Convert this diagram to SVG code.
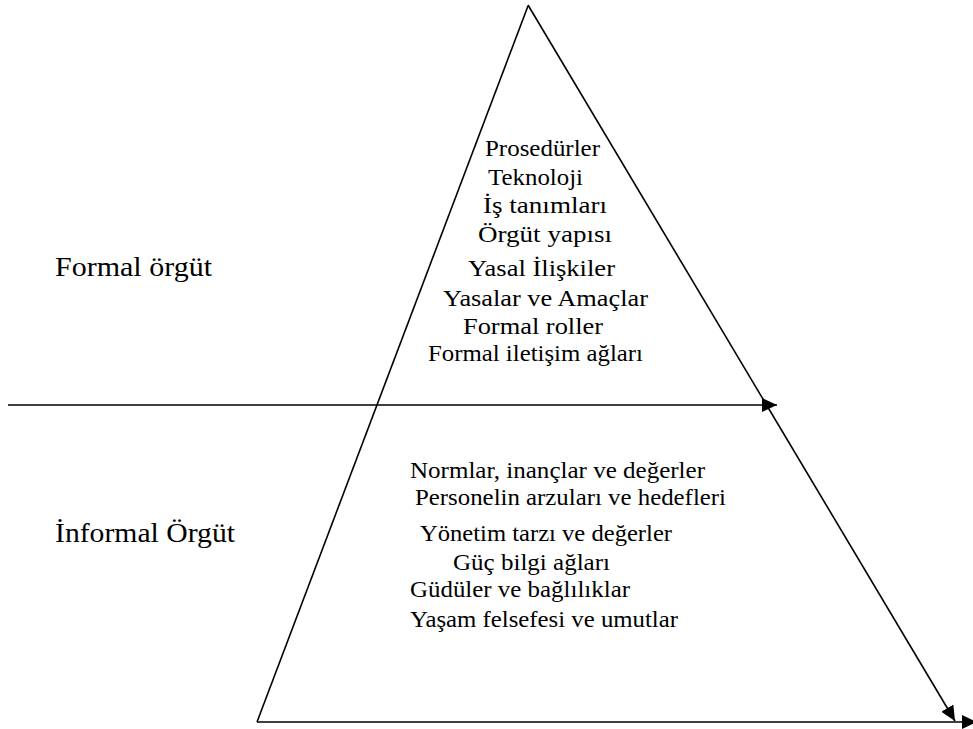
<svg xmlns="http://www.w3.org/2000/svg" width="973" height="729" viewBox="0 0 973 729">
<style>
.ln{stroke:#000;stroke-width:1.6;fill:none}
.t{font-family:"Liberation Serif","Times New Roman",Times,serif;font-size:23.5px;fill:#000}
.lbl{font-family:"Liberation Serif","Times New Roman",Times,serif;font-size:27px;fill:#000}
</style>
<defs>
<marker id="ah" markerUnits="userSpaceOnUse" markerWidth="16" markerHeight="14" refX="15" refY="7" orient="auto">
<path d="M0,0 L15,7 L0,14 Z" fill="#000"/>
</marker>
</defs>
<rect width="973" height="729" fill="#fff"/>
<g id="connectors">
<line class="ln" x1="528" y1="6" x2="257" y2="722"/>
<line class="ln" x1="528" y1="5" x2="955" y2="721" marker-end="url(#ah)"/>
<line class="ln" x1="8" y1="405" x2="777" y2="405" marker-end="url(#ah)"/>
<line class="ln" x1="257" y1="722" x2="977" y2="722" marker-end="url(#ah)"/>
</g>
<g id="formal-label"><text class="lbl" x="55" y="276" textLength="157" lengthAdjust="spacingAndGlyphs">Formal örgüt</text></g>
<g id="informal-label"><text class="lbl" x="55" y="542" textLength="180" lengthAdjust="spacingAndGlyphs">İnformal Örgüt</text></g>
<g id="formal-items">
<text class="t" x="485" y="156" textLength="115" lengthAdjust="spacingAndGlyphs">Prosedürler</text>
<text class="t" x="488" y="185" textLength="95" lengthAdjust="spacingAndGlyphs">Teknoloji</text>
<text class="t" x="483" y="213" textLength="124" lengthAdjust="spacingAndGlyphs">İş tanımları</text>
<text class="t" x="478" y="242" textLength="134" lengthAdjust="spacingAndGlyphs">Örgüt yapısı</text>
<text class="t" x="468" y="276" textLength="147" lengthAdjust="spacingAndGlyphs">Yasal İlişkiler</text>
<text class="t" x="443" y="306" textLength="205" lengthAdjust="spacingAndGlyphs">Yasalar ve Amaçlar</text>
<text class="t" x="463" y="334" textLength="140" lengthAdjust="spacingAndGlyphs">Formal roller</text>
<text class="t" x="428" y="361" textLength="215" lengthAdjust="spacingAndGlyphs">Formal iletişim ağları</text>
</g>
<g id="informal-items">
<text class="t" x="410" y="478" textLength="295" lengthAdjust="spacingAndGlyphs">Normlar, inançlar ve değerler</text>
<text class="t" x="415" y="505" textLength="311" lengthAdjust="spacingAndGlyphs">Personelin arzuları ve hedefleri</text>
<text class="t" x="420" y="541" textLength="252" lengthAdjust="spacingAndGlyphs">Yönetim tarzı ve değerler</text>
<text class="t" x="453" y="570" textLength="157" lengthAdjust="spacingAndGlyphs">Güç bilgi ağları</text>
<text class="t" x="410" y="597" textLength="220" lengthAdjust="spacingAndGlyphs">Güdüler ve bağlılıklar</text>
<text class="t" x="410" y="627" textLength="268" lengthAdjust="spacingAndGlyphs">Yaşam felsefesi ve umutlar</text>
</g>
</svg>
